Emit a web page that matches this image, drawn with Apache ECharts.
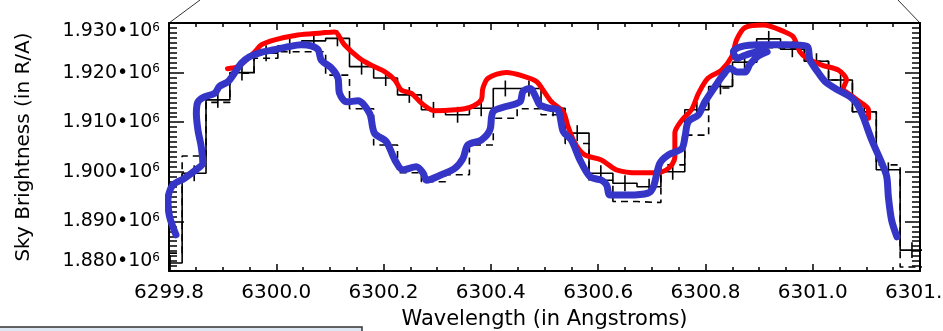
<!DOCTYPE html>
<html>
<head>
<meta charset="utf-8">
<title>Sky Brightness vs Wavelength</title>
<script src="https://cdn.jsdelivr.net/npm/echarts@6/dist/echarts.min.js"></script>
<style>
  html, body { margin: 0; padding: 0; background: #fff; }
  #chart { width: 943px; height: 331px; }
</style>
</head>
<body>
<div id="chart"></div>
<script>
// Binned spectra: bin centres (Angstroms) and brightness (R/A)
const binWavelengths = [
  6299.802, 6299.847, 6299.891, 6299.936, 6299.981, 6300.025, 6300.070, 6300.114,
  6300.159, 6300.204, 6300.248, 6300.293, 6300.338, 6300.382, 6300.427, 6300.471,
  6300.516, 6300.561, 6300.605, 6300.650, 6300.695, 6300.739, 6300.784, 6300.828,
  6300.873, 6300.918, 6300.962, 6301.007, 6301.052, 6301.096, 6301.141, 6301.185
];
const solidSpectrum = [
  1881600, 1899700, 1914500, 1920000, 1923900, 1925400, 1926400, 1926900,
  1921200, 1918900, 1915500, 1912500, 1911500, 1912800, 1916800, 1916800,
  1912800, 1907800, 1899700, 1897700, 1897000, 1900000, 1912500, 1917200,
  1922100, 1926800, 1924700, 1922300, 1918500, 1912100, 1900400, 1884200
];
const solidErrors = [
  1600, 1600, 1600, 1600, 1600, 1600, 1600, 1600,
  1600, 1600, 1600, 1600, 1600, 1600, 1600, 1600,
  1600, 1600, 1600, 1600, 1600, 1600, 1600, 1600,
  1600, 1600, 1600, 1600, 1600, 1600, 1500, 1600
];
const dashedSpectrum = [
  1883600, 1903200, 1914000, 1919900, 1922900, 1924200, 1924200, 1919500,
  1912700, 1905400, 1899800, 1898000, 1899400, 1905400, 1910800, 1912700,
  1911500, 1905700, 1898300, 1894000, 1893800, 1901400, 1907400, 1916900,
  1922100, 1925000, 1924700, 1922300, 1918500, 1912100, 1901400, 1880800
];

// Red model curve (traced in drawing order)
const redWavelengths = [
  6299.909, 6299.926, 6299.941, 6299.960, 6299.972, 6299.997, 6300.040, 6300.084,
  6300.109, 6300.127, 6300.155, 6300.177, 6300.202, 6300.221, 6300.233, 6300.252,
  6300.271, 6300.295, 6300.333, 6300.361, 6300.382, 6300.385, 6300.395, 6300.429,
  6300.463, 6300.485, 6300.501, 6300.513, 6300.535, 6300.544, 6300.557, 6300.575,
  6300.606, 6300.634, 6300.675, 6300.706, 6300.731, 6300.743, 6300.743, 6300.756,
  6300.774, 6300.787, 6300.805, 6300.830, 6300.849, 6300.858, 6300.874, 6300.908,
  6300.948, 6300.964, 6300.976, 6300.989, 6301.017, 6301.048, 6301.063, 6301.057,
  6301.073, 6301.088, 6301.104, 6301.104
];
const redValues = [
  1920800, 1921100, 1922200, 1924200, 1925600, 1926600, 1927600, 1928000,
  1928200, 1925600, 1922900, 1921500, 1920200, 1918500, 1916500, 1915800,
  1913800, 1912300, 1912500, 1913000, 1914500, 1916800, 1918900, 1920000,
  1919200, 1918200, 1915900, 1914100, 1912100, 1909100, 1905700, 1903400,
  1902400, 1900400, 1899800, 1899800, 1900700, 1903000, 1907800, 1910400,
  1912500, 1915800, 1918900, 1920500, 1923200, 1926600, 1929100, 1929600,
  1928200, 1927200, 1924200, 1922900, 1921500, 1920500, 1918500, 1916800,
  1915300, 1914100, 1912500, 1910800
];

// Blue model curve (traced in drawing order, including the small loop near 6300.9)
const blueWavelengths = [
  6299.813, 6299.801, 6299.798, 6299.807, 6299.829, 6299.854, 6299.863, 6299.860,
  6299.854, 6299.851, 6299.854, 6299.866, 6299.885, 6299.894, 6299.910, 6299.922,
  6299.935, 6299.950, 6299.972, 6299.997, 6300.022, 6300.047, 6300.065, 6300.078,
  6300.084, 6300.103, 6300.115, 6300.118, 6300.131, 6300.152, 6300.174, 6300.183,
  6300.205, 6300.221, 6300.236, 6300.261, 6300.274, 6300.280, 6300.308, 6300.333,
  6300.348, 6300.357, 6300.382, 6300.398, 6300.404, 6300.426, 6300.454, 6300.460,
  6300.473, 6300.485, 6300.491, 6300.510, 6300.525, 6300.535, 6300.550, 6300.566,
  6300.585, 6300.606, 6300.616, 6300.622, 6300.656, 6300.693, 6300.703, 6300.715,
  6300.731, 6300.756, 6300.762, 6300.768, 6300.787, 6300.799, 6300.818, 6300.833,
  6300.846, 6300.859, 6300.874, 6300.883, 6300.898, 6300.915, 6300.898, 6300.874,
  6300.859, 6300.852, 6300.865, 6300.902, 6300.952, 6300.989, 6300.995, 6301.007,
  6301.023, 6301.042, 6301.070, 6301.082, 6301.094, 6301.110, 6301.129, 6301.138,
  6301.141, 6301.147, 6301.157
];
const blueValues = [
  1887300, 1891000, 1894300, 1897300, 1898700, 1900700, 1901700, 1905100,
  1908400, 1911800, 1914100, 1915100, 1915800, 1917200, 1918200, 1919900,
  1921900, 1923200, 1924100, 1924600, 1925200, 1925600, 1925400, 1924600,
  1922500, 1920900, 1918900, 1915800, 1914100, 1914300, 1911800, 1907800,
  1906100, 1902400, 1900400, 1901000, 1899700, 1898300, 1899400, 1900700,
  1902700, 1905400, 1906400, 1908400, 1912100, 1913100, 1914100, 1916200,
  1916800, 1914800, 1913500, 1912800, 1912500, 1908100, 1906400, 1902400,
  1899000, 1898300, 1897300, 1895300, 1895300, 1895700, 1897000, 1901700,
  1903400, 1904700, 1907100, 1910100, 1911500, 1914100, 1917200, 1919500,
  1920900, 1920100, 1920100, 1921700, 1923300, 1924200, 1924200, 1923500,
  1922900, 1924200, 1925200, 1925600, 1925600, 1925300, 1922500, 1920500,
  1918200, 1916800, 1915100, 1913800, 1911100, 1906400, 1901700, 1899000,
  1895000, 1890300, 1886900
];

// Axis ranges and tick spacing
const xRange = [6299.8, 6301.2];
const xStep = 0.2;
const yRange = [1880000, 1930000];
const yStep = 10000;

// Build a histogram outline: each bin becomes a flat segment between its edges
function histogramPath(centres, values) {
  const pts = [];
  for (let i = 0; i < centres.length; i++) {
    const left = i === 0 ? centres[0] - (centres[1] - centres[0]) / 2 : (centres[i - 1] + centres[i]) / 2;
    const right = i === centres.length - 1 ? centres[i] + (centres[i] - centres[i - 1]) / 2 : (centres[i] + centres[i + 1]) / 2;
    pts.push([left, values[i]], [right, values[i]]);
  }
  return pts;
}
const zip = (a, b) => a.map((v, i) => [v, b[i]]);

const FONT = 'DejaVu Sans';

function yLabel(v) {
  const txt = (v / 1e6).toFixed(3) + '•10';
  if (v === yRange[0]) return '{mb|' + txt + '}{sb|6}';
  if (v === yRange[1]) return '{mt|' + txt + '}{st|6}';
  return '{m|' + txt + '}{s|6}';
}

const chart = echarts.init(document.getElementById('chart'), null, { renderer: 'canvas' });

const frameLine = { show: true, onZero: false, lineStyle: { color: '#000', width: 2 } };

chart.setOption({
  animation: false,
  backgroundColor: '#fff',
  grid: { left: 169, right: 23, top: 23, bottom: 60, containLabel: false, outerBoundsMode: 'none' },
  xAxis: [
    {
      type: 'value', min: xRange[0], max: xRange[1], interval: xStep,
      position: 'bottom',
      axisLine: frameLine,
      axisTick: { inside: true, length: 7, lineStyle: { color: '#000', width: 1.5 } },
      minorTick: { show: true, splitNumber: 4, length: 4, lineStyle: { color: '#000', width: 1.5 } },
      splitLine: { show: false },
      axisLabel: {
        margin: 12, color: '#000', fontFamily: FONT, fontSize: 20,
        formatter: v => v.toFixed(1)
      },
      name: 'Wavelength (in Angstroms)',
      nameLocation: 'middle', nameGap: 38,
      nameTextStyle: { fontFamily: FONT, fontSize: 21, color: '#000' }
    },
    {
      type: 'value', min: xRange[0], max: xRange[1], interval: xStep,
      position: 'top',
      axisLine: frameLine,
      axisTick: { inside: true, length: 7, lineStyle: { color: '#000', width: 1.5 } },
      minorTick: { show: true, splitNumber: 4, length: 4, lineStyle: { color: '#000', width: 1.5 } },
      splitLine: { show: false },
      axisLabel: { show: false }
    }
  ],
  yAxis: [
    {
      type: 'value', min: yRange[0], max: yRange[1], interval: yStep,
      position: 'left',
      axisLine: frameLine,
      axisTick: { inside: true, length: 15, lineStyle: { color: '#000', width: 1.5 } },
      minorTick: { show: true, splitNumber: 10, length: 8, lineStyle: { color: '#000', width: 1.5 } },
      splitLine: { show: false },
      axisLabel: {
        margin: 9, color: '#000', formatter: yLabel,
        rich: {
          m: { fontFamily: FONT, fontSize: 19, color: '#000' },
          s: { fontFamily: FONT, fontSize: 12, color: '#000', verticalAlign: 'top' },
          mb: { fontFamily: FONT, fontSize: 19, color: '#000', padding: [0, 0, 20, 0] },
          sb: { fontFamily: FONT, fontSize: 12, color: '#000', verticalAlign: 'top' },
          mt: { fontFamily: FONT, fontSize: 19, color: '#000', padding: [16, 0, 0, 0] },
          st: { fontFamily: FONT, fontSize: 12, color: '#000', verticalAlign: 'top', padding: [16, 0, 0, 0] }
        }
      },
      name: 'Sky Brightness (in R/A)',
      nameLocation: 'middle', nameGap: 135, nameRotate: 90,
      nameTextStyle: { fontFamily: FONT, fontSize: 20, color: '#000' }
    },
    {
      type: 'value', min: yRange[0], max: yRange[1], interval: yStep,
      position: 'right',
      axisLine: frameLine,
      axisTick: { inside: true, length: 15, lineStyle: { color: '#000', width: 1.5 } },
      minorTick: { show: true, splitNumber: 10, length: 8, lineStyle: { color: '#000', width: 1.5 } },
      splitLine: { show: false },
      axisLabel: { show: false }
    }
  ],
  series: [
    {
      name: 'binned (solid)', type: 'line', clip: true, symbol: 'none',
      data: histogramPath(binWavelengths, solidSpectrum),
      lineStyle: { color: '#000', width: 1.6 }, z: 2
    },
    {
      name: 'binned (dashed)', type: 'line', clip: true, symbol: 'none',
      data: histogramPath(binWavelengths, dashedSpectrum),
      lineStyle: { color: '#000', width: 1.6, type: [7, 5] }, z: 2
    },
    {
      name: 'errors', type: 'custom', clip: true, z: 2,
      data: binWavelengths.map((w, i) => [w, solidSpectrum[i] - solidErrors[i], solidSpectrum[i] + solidErrors[i]]),
      renderItem: (params, api) => {
        const lo = api.coord([api.value(0), api.value(1)]);
        const hi = api.coord([api.value(0), api.value(2)]);
        return {
          type: 'line',
          shape: { x1: lo[0], y1: lo[1], x2: hi[0], y2: hi[1] },
          style: { stroke: '#000', lineWidth: 1.6 }
        };
      }
    },
    {
      name: 'red model', type: 'line', clip: true, symbol: 'none', smooth: 0.3,
      data: zip(redWavelengths, redValues),
      lineStyle: { color: '#ff0000', width: 5, cap: 'round', join: 'round' }, z: 3
    },
    {
      name: 'blue model', type: 'line', clip: false, symbol: 'none', smooth: 0.3,
      data: zip(blueWavelengths, blueValues),
      lineStyle: { color: '#3535c8', width: 7, cap: 'round', join: 'round' }, z: 4
    }
  ]
});

// Callout lines leaving the top corners of the frame, and the panel strip below
const tl = chart.convertToPixel({ xAxisIndex: 0, yAxisIndex: 0 }, [xRange[0], yRange[1]]);
const tr = chart.convertToPixel({ xAxisIndex: 0, yAxisIndex: 0 }, [xRange[1], yRange[1]]);
chart.setOption({
  graphic: [
    { type: 'line', shape: { x1: tl[0], y1: tl[1], x2: tl[0] + 31, y2: 0 }, style: { stroke: '#333', lineWidth: 1 }, silent: true },
    { type: 'line', shape: { x1: tr[0], y1: tr[1], x2: tr[0] - 22, y2: 0 }, style: { stroke: '#333', lineWidth: 1 }, silent: true },
    { type: 'rect', shape: { x: -2, y: 327, width: 364, height: 12 }, style: { fill: '#dde7f4', stroke: '#333', lineWidth: 1.5 }, silent: true }
  ]
});
</script>
</body>
</html>
